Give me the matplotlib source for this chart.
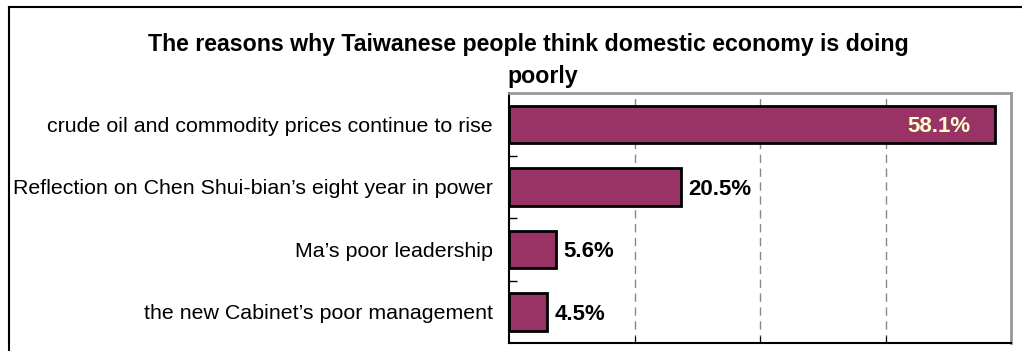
import matplotlib
matplotlib.use("Agg")
from matplotlib import pyplot as plt
from matplotlib.lines import Line2D

plt.rcParams['font.family'] = ['Liberation Sans', 'DejaVu Sans']

# data
reasons = [
    "crude oil and commodity prices continue to rise",
    "Reflection on Chen Shui-bian\u2019s eight year in power",
    "Ma\u2019s poor leadership",
    "the new Cabinet\u2019s poor management",
]
shares = [58.1, 20.5, 5.6, 4.5]
labels = ["58.1%", "20.5%", "5.6%", "4.5%"]

fig = plt.figure(figsize=(10.22, 3.51), dpi=100)
W, H = 1022, 351
# axes box in pixels: left 509, right 1011, top 93, bottom 343
ax = fig.add_axes([509 / W, 1 - 343 / H, (1011 - 509) / W, (343 - 93) / H])

ypos = list(range(len(reasons)))
ax.barh(ypos, shares, height=0.6, color="#993366", edgecolor="black", linewidth=2, zorder=3)
ax.set_xlim(0, 60)
ax.set_ylim(len(reasons) - 0.5, -0.5)

# value labels
for i, (v, s) in enumerate(zip(shares, labels)):
    if v > 40:
        ax.text(v - 3.0, i, s, ha="right", va="center_baseline", fontsize=16, fontweight="bold",
                color="#FFFFCC", zorder=4)
    else:
        ax.text(v + 0.9, i, s, ha="left", va="center_baseline", fontsize=16, fontweight="bold",
                color="black", zorder=4)

# axes styling
ax.set_yticks(ypos)
ax.set_yticklabels(reasons, fontsize=15.4)
ax.tick_params(axis="y", which="major", length=0, pad=11.5)
ax.set_yticks([0.5, 1.5, 2.5], minor=True)
ax.tick_params(axis="y", which="minor", direction="in", length=6, width=1, color="black")
ax.set_xticks([15, 30, 45])
ax.set_xticklabels([])
ax.tick_params(axis="x", direction="in", length=5, color="black")
ax.grid(axis="x", color="#888888", linestyle=(0, (6, 4)), linewidth=1, zorder=0)

ax.spines["left"].set_color("black")
ax.spines["bottom"].set_color("black")
ax.spines["left"].set_linewidth(1.5)
ax.spines["bottom"].set_linewidth(1.5)
ax.spines["top"].set_color("#999999")
ax.spines["right"].set_color("#999999")
ax.spines["top"].set_linewidth(2)
ax.spines["right"].set_linewidth(2)

# title
fig.text(528 / W, 1 - 44 / H, "The reasons why Taiwanese people think domestic economy is doing",
         ha="center", va="center", fontsize=16.7, fontweight="bold")
fig.text(543 / W, 1 - 76 / H, "poorly", ha="center", va="center", fontsize=16.7, fontweight="bold")

# chart frame (left and top edges visible)
fig.add_artist(Line2D([9 / W, 9 / W], [0, 1 - 7 / H], transform=fig.transFigure,
                      color="black", linewidth=1.5))
fig.add_artist(Line2D([9 / W, 1], [1 - 7 / H, 1 - 7 / H], transform=fig.transFigure,
                      color="black", linewidth=1.5))

fig.savefig("out.png", dpi=100)
